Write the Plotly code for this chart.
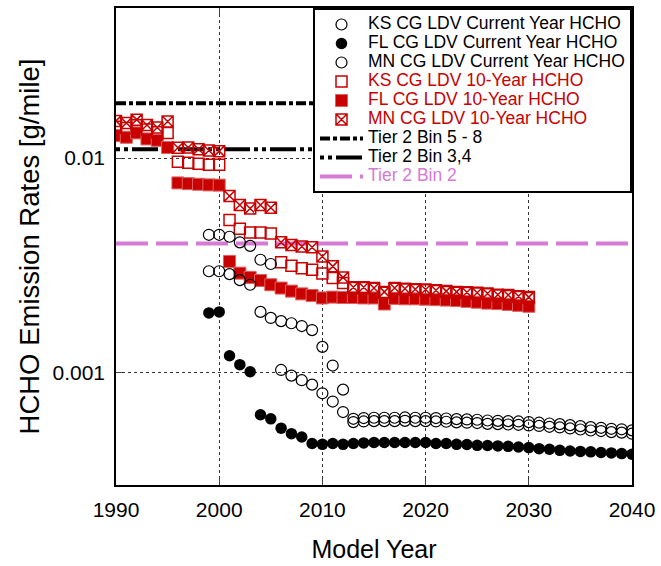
import plotly.graph_objects as go

# ---------------- data ----------------
years_cy = list(range(1999, 2041))
years_10 = list(range(1990, 2031))

ks_cy = [0.00439, 0.00439, 0.00430, 0.00405, 0.00390, 0.00336, 0.00321, 0.00174, 0.00170, 0.00165,
         0.00158, 0.00132, 0.00108, 0.000834, 0.000610, 0.000615, 0.000617, 0.000617, 0.000617, 0.000619,
         0.000617, 0.000617, 0.000615, 0.000612, 0.000608, 0.000606, 0.000604, 0.000599, 0.000597, 0.000595,
         0.000593, 0.000589, 0.000585, 0.000580, 0.000576, 0.000570, 0.000564, 0.000558, 0.000554, 0.000548,
         0.000545, 0.000539]
fl_cy = [0.00190, 0.00192, 0.00120, 0.00109, 0.00101, 0.000637, 0.000610, 0.000552, 0.000520, 0.000502,
         0.000468, 0.000464, 0.000468, 0.000464, 0.000468, 0.000471, 0.000473, 0.000473, 0.000473, 0.000473,
         0.000473, 0.000473, 0.000468, 0.000468, 0.000464, 0.000463, 0.000459, 0.000458, 0.000456, 0.000454,
         0.000451, 0.000448, 0.000443, 0.000440, 0.000435, 0.000432, 0.000430, 0.000428, 0.000425, 0.000423,
         0.000420, 0.000417]
mn_cy = [0.00297, 0.00297, 0.00288, 0.00270, 0.00257, 0.00192, 0.00180, 0.00103, 0.000970, 0.000923,
         0.000880, 0.000802, 0.000734, 0.000656, 0.000589, 0.000593, 0.000595, 0.000595, 0.000595, 0.000597,
         0.000595, 0.000595, 0.000593, 0.000591, 0.000587, 0.000585, 0.000583, 0.000578, 0.000576, 0.000574,
         0.000572, 0.000568, 0.000565, 0.000560, 0.000556, 0.000550, 0.000544, 0.000538, 0.000535, 0.000529,
         0.000526, 0.000520]

ks_10 = [0.0140, 0.0138, 0.0142, 0.0136, 0.0132, 0.0131, 0.00960, 0.00950, 0.00940, 0.00930,
         0.00930, 0.00515, 0.00468, 0.00450, 0.00450, 0.00445, 0.00327, 0.00315, 0.00307, 0.00302,
         0.00290, 0.00276, 0.00262, 0.00248, 0.00248, 0.00246, 0.00236, 0.00246, 0.00244, 0.00243,
         0.00242, 0.00240, 0.00238, 0.00236, 0.00235, 0.00234, 0.00232, 0.00229, 0.00228, 0.00225,
         0.00223]
fl_10 = [0.01273, 0.01250, 0.01310, 0.01228, 0.01210, 0.01120, 0.00766, 0.00760, 0.00755, 0.00750,
         0.00748, 0.00330, 0.00291, 0.00278, 0.00269, 0.00257, 0.00248, 0.00240, 0.00233, 0.00229,
         0.00223, 0.00225, 0.00224, 0.00224, 0.00223, 0.00223, 0.00209, 0.00222, 0.00221, 0.00221,
         0.00220, 0.00219, 0.00218, 0.00217, 0.00215, 0.00213, 0.00211, 0.00210, 0.00208, 0.00206,
         0.00204]
mn_10 = [0.01490, 0.01457, 0.01510, 0.01426, 0.01388, 0.01479, 0.01116, 0.01120, 0.01100, 0.01085,
         0.01077, 0.00665, 0.00604, 0.00582, 0.00604, 0.00587, 0.00405, 0.00394, 0.00387, 0.00384,
         0.00348, 0.00313, 0.00278, 0.00250, 0.00250, 0.00248, 0.00238, 0.00248, 0.00246, 0.00245,
         0.00244, 0.00242, 0.00240, 0.00238, 0.00237, 0.00236, 0.00234, 0.00231, 0.00230, 0.00227,
         0.00225]

tier_x = [1990, 2040]
tier_bin58 = [0.018, 0.018]
tier_bin34 = [0.011, 0.011]
tier_bin2 = [0.004, 0.004]

x_ticks = [1990, 2000, 2010, 2020, 2030, 2040]
y_ticks = [0.001, 0.01]
y_ticktext = ["0.001", "0.01"]

RED = "#C80000"
VIOLET = "#D77AD4"
LEG_PX = 17.5


def lab(text, color="black"):
    return f"<span style='font-size:{LEG_PX}px;color:{color}'>{text}</span>"


fig = go.Figure()

# reference lines (drawn behind markers)
fig.add_trace(go.Scatter(x=tier_x, y=tier_bin58, mode="lines", name=lab("Tier 2 Bin 5 - 8"),
                         line=dict(color="black", width=4, dash="10px,3px,4px,3px"), legendrank=7))
fig.add_trace(go.Scatter(x=tier_x, y=tier_bin34, mode="lines", name=lab("Tier 2 Bin 3,4"),
                         line=dict(color="black", width=4, dash="4px,4px,4px,4px,26px,4px"), legendrank=8))
fig.add_trace(go.Scatter(x=tier_x, y=tier_bin2, mode="lines", name=lab("Tier 2 Bin 2", VIOLET),
                         line=dict(color=VIOLET, width=4, dash="32px,8px"), legendrank=9))

fig.add_trace(go.Scatter(x=years_10, y=fl_10, mode="markers", name=lab("FL CG LDV 10-Year HCHO", RED),
                         marker=dict(symbol="square", size=12, color=RED,
                                     line=dict(color="#E06060", width=1)), legendrank=5))
fig.add_trace(go.Scatter(x=years_10, y=ks_10, mode="markers", name=lab("KS CG LDV 10-Year HCHO", RED),
                         marker=dict(symbol="square-open", size=11, color=RED,
                                     line=dict(color=RED, width=1.5)), legendrank=4))
fig.add_trace(go.Scatter(x=years_10, y=mn_10, mode="markers", name=lab("MN CG LDV 10-Year HCHO", RED),
                         marker=dict(symbol="square-x-open", size=11, color=RED,
                                     line=dict(color=RED, width=1.5)), legendrank=6))

fig.add_trace(go.Scatter(x=years_cy, y=fl_cy, mode="markers", name=lab("FL CG LDV Current Year HCHO"),
                         marker=dict(symbol="circle", size=11.5, color="black"), legendrank=2))
fig.add_trace(go.Scatter(x=years_cy, y=mn_cy, mode="markers", name=lab("MN CG LDV Current Year HCHO"),
                         marker=dict(symbol="circle-open", size=11, color="black",
                                     line=dict(color="black", width=1.2)), legendrank=3))
fig.add_trace(go.Scatter(x=years_cy, y=ks_cy, mode="markers", name=lab("KS CG LDV Current Year HCHO"),
                         marker=dict(symbol="circle-open", size=11, color="black",
                                     line=dict(color="black", width=1.2)), legendrank=1))

FONT = "Liberation Sans, Arial, sans-serif"

fig.update_layout(
    width=661, height=566,
    margin=dict(l=116, r=28, t=6, b=81),
    paper_bgcolor="white", plot_bgcolor="white",
    font=dict(family=FONT, color="black", size=21),
    showlegend=True,
    legend=dict(x=1, y=1, xanchor="right", yanchor="top",
                bgcolor="white", bordercolor="black", borderwidth=2,
                font=dict(family=FONT, size=12, color="black"),
                itemwidth=43, tracegroupgap=0),
    xaxis=dict(range=[1990, 2040], tickvals=x_ticks, ticks="inside", ticklen=6,
               showline=True, linecolor="black", linewidth=1.5, mirror="allticks",
               showgrid=True, gridcolor="#333", griddash="dot", gridwidth=1,
               zeroline=False, tickfont=dict(size=21), ticklabelstandoff=5,
               title=dict(text="Model Year", font=dict(size=25), standoff=21)),
    yaxis=dict(type="log", range=[-3.523, -1.301], tickvals=y_ticks, ticktext=y_ticktext,
               ticks="inside", ticklen=6,
               showline=True, linecolor="black", linewidth=1.5, mirror="allticks",
               showgrid=True, gridcolor="#333", griddash="dot", gridwidth=1,
               zeroline=False, tickfont=dict(size=21), ticklabelstandoff=5,
               title=dict(text="HCHO Emission Rates [g/mile]", font=dict(size=27.5), standoff=5)),
)

fig.write_html("out.html")
